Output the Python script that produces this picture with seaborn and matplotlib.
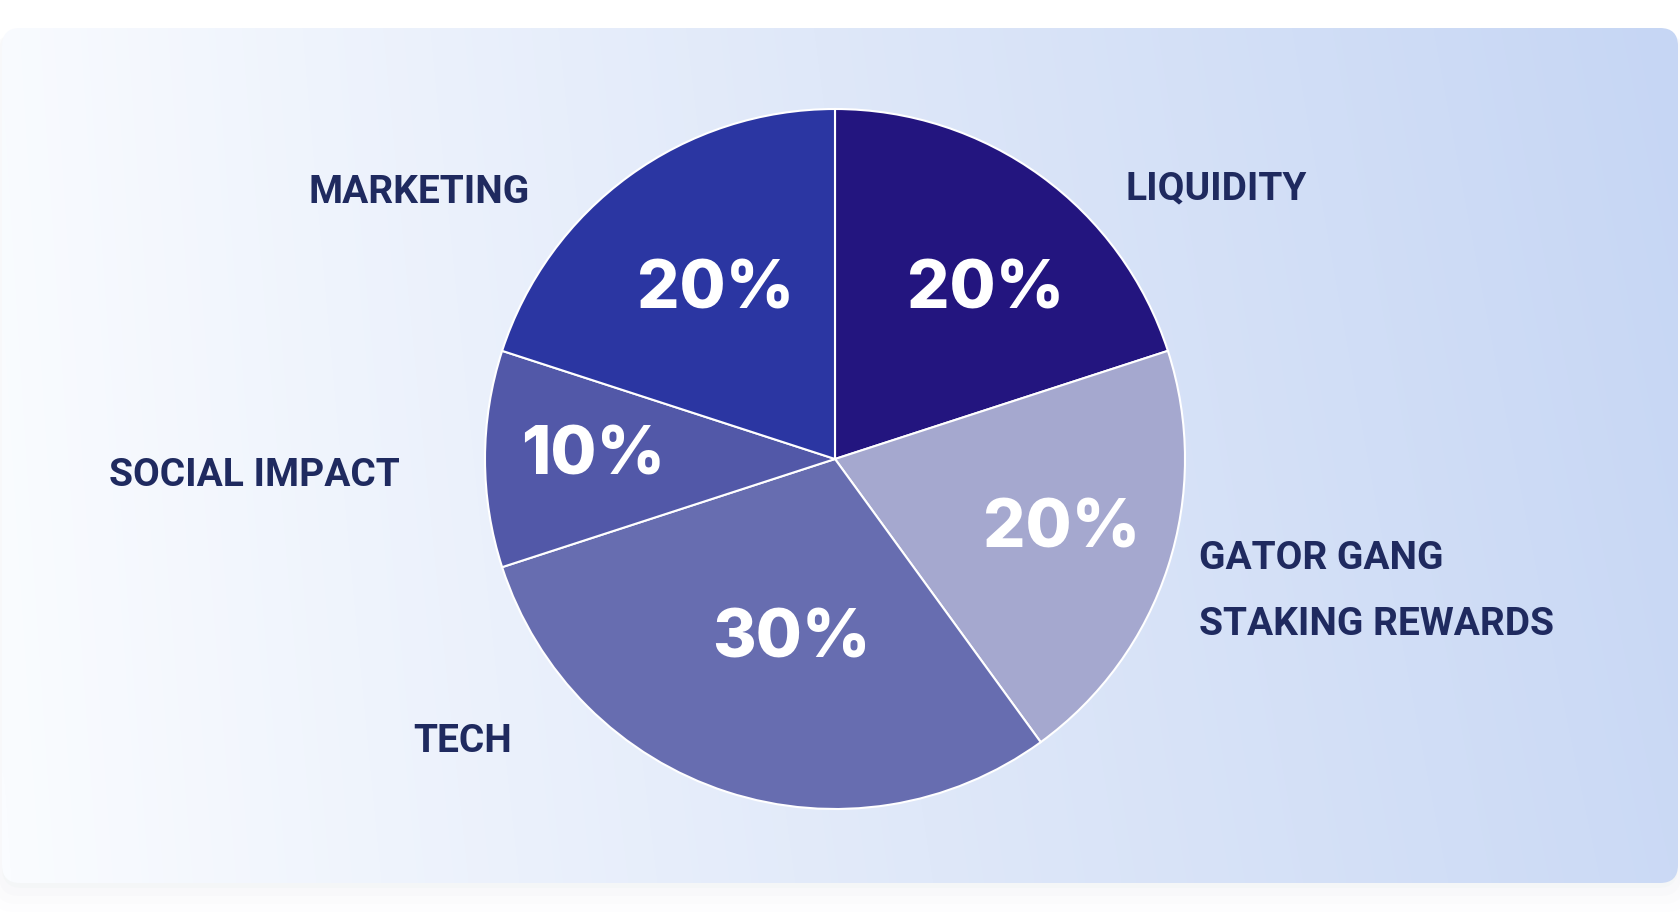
import numpy as np
import matplotlib.pyplot as plt
import seaborn as sns
from matplotlib.patches import FancyBboxPatch
from matplotlib.colors import LinearSegmentedColormap

sns.set_theme(style="white")
plt.rcParams['font.family'] = ['Roboto', 'DejaVu Sans']

# ============================================================
# Data
# ============================================================
categories = ["LIQUIDITY", "GATOR GANG\nSTAKING REWARDS", "TECH", "SOCIAL IMPACT", "MARKETING"]
shares = [20, 20, 30, 10, 20]
slice_colors = ["#23157f", "#a5a8cf", "#676db0", "#5258a8", "#2b36a2"]

# placement, in units of the pie radius
label_xy = [(0.83, 0.772), (1.04, -0.378), (-0.923, -0.808), (-1.243, -0.048), (-0.871, 0.762)]
label_ha = ["left", "left", "right", "right", "right"]
pct_xy = [(0.43, 0.479), (0.648, -0.204), (-0.126, -0.518), (-0.69, 0.005), (-0.34, 0.479)]

W, H = 1680, 923
cx, cy, R = 835, 459, 350   # pie centre / radius in pixels

fig = plt.figure(figsize=(W / 100, H / 100), dpi=100)
fig.patch.set_facecolor("white")

# ===== background card with gradient ===== #
bg = fig.add_axes([0, 0, 1, 1])
bg.set_xlim(0, W)
bg.set_ylim(H, 0)
bg.axis("off")

# soft shadow under the card
for i, a in enumerate([0.030, 0.022, 0.015, 0.010]):
    sh = FancyBboxPatch((2 - i * 3, 30 + i * 2), 1676 + i * 6, 858 + i * 6,
                        boxstyle="round,pad=0,rounding_size=20",
                        facecolor="#9aa3b5", edgecolor="none", alpha=a, zorder=0)
    bg.add_patch(sh)

card = FancyBboxPatch((2, 28), 1676, 855, boxstyle="round,pad=0,rounding_size=18",
                      facecolor="none", edgecolor="none")
bg.add_patch(card)
xx, yy = np.meshgrid(np.linspace(0, 1, 400), np.linspace(0, 1, 200))
grad = 0.9 * xx + 0.1 * (1 - yy) * xx + 0.03 * (1 - yy) * (1 - xx)
cmap = LinearSegmentedColormap.from_list("card", ["#fafcff", "#dfe8f9", "#c6d6f4"])
img = bg.imshow(grad, cmap=cmap, extent=(2, 1678, 883, 28), aspect="auto",
                vmin=0, vmax=1, interpolation="bicubic", zorder=2)
img.set_clip_path(card)

# ===== pie ===== #
ax = fig.add_axes([0, 0, 1, 1])
ax.patch.set_alpha(0)
wedges, _, autotexts = ax.pie(
    shares,
    colors=slice_colors,
    startangle=90,
    counterclock=False,
    autopct=lambda p: f"{p:.0f}%",
    wedgeprops=dict(edgecolor="white", linewidth=1.5),
    textprops=dict(color="white", fontsize=48, fontweight=800, family=["Inter", "DejaVu Sans"]),
)

for t, (x, y) in zip(autotexts, pct_xy):
    t.set_position((x, y))
    t.set_va("center")

for lab, (x, y), ha in zip(categories, label_xy, label_ha):
    ax.text(x, y, lab, ha=ha, va="center", fontsize=28, fontweight="bold",
            color="#1f2a5f", linespacing=1.98)

ax.set_xlim(-cx / R, (W - cx) / R)
ax.set_ylim((cy - H) / R, cy / R)
ax.set_aspect("auto")
ax.axis("off")

plt.savefig("out.png", dpi=100, facecolor=fig.get_facecolor())
